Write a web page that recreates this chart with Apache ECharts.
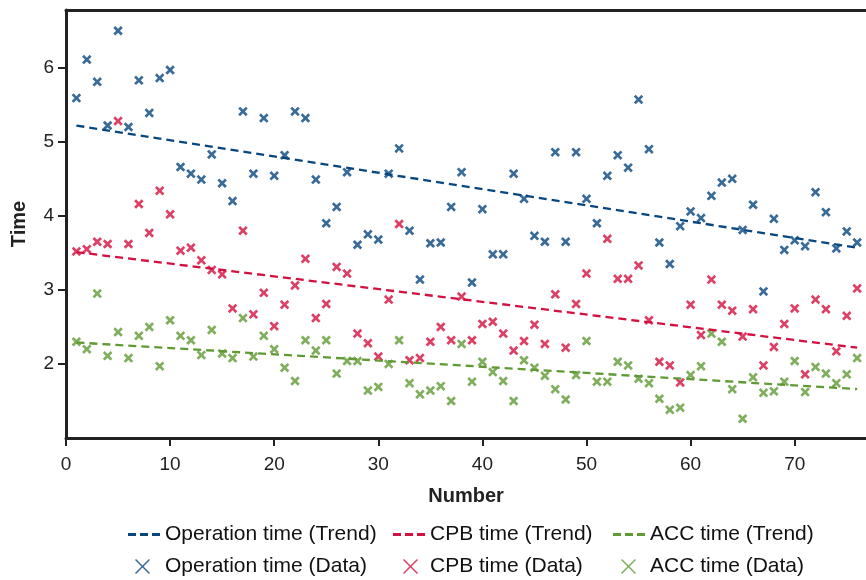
<!DOCTYPE html>
<html>
<head>
<meta charset="utf-8">
<script src="https://cdn.jsdelivr.net/npm/echarts@6/dist/echarts.min.js"></script>
<style>html,body{margin:0;padding:0;background:#fff;}#c{width:866px;height:580px;}</style>
</head>
<body>
<div id="c"></div>
<script>
const numbers = [1,2,3,4,5,6,7,8,9,10,11,12,13,14,15,16,17,18,19,20,21,22,23,24,25,26,27,28,29,30,31,32,33,34,35,36,37,38,39,40,41,42,43,44,45,46,47,48,49,50,51,52,53,54,55,56,57,58,59,60,61,62,63,64,65,66,67,68,69,70,71,72,73,74,75,76];
const operationTime = [5.59,6.11,5.81,5.22,6.50,5.20,5.83,5.39,5.86,5.97,
4.66,4.57,4.49,4.83,4.44,4.20,5.41,4.57,5.32,4.54,
4.82,5.41,5.32,4.49,3.90,4.12,4.59,3.61,3.75,3.68,
4.57,4.91,3.80,3.14,3.63,3.64,4.12,4.59,3.10,4.09,
3.48,3.48,4.57,4.23,3.73,3.65,4.86,3.65,4.86,4.23,
3.90,4.54,4.82,4.65,5.57,4.90,3.64,3.35,3.86,4.06,
3.97,4.27,4.45,4.50,3.81,4.15,2.98,3.96,3.54,3.67,
3.59,4.32,4.05,3.56,3.79,3.64];
const cpbTime = [3.52,3.55,3.65,3.62,5.28,3.62,4.16,3.77,4.34,4.02,
3.53,3.57,3.40,3.27,3.21,2.75,3.80,2.67,2.96,2.51,
2.80,3.06,3.42,2.62,2.81,3.31,3.22,2.41,2.28,2.10,
2.87,3.89,2.05,2.08,2.30,2.50,2.32,2.91,2.32,2.54,
2.57,2.41,2.18,2.31,2.53,2.27,2.94,2.22,2.81,3.22,
null,3.69,3.15,3.15,3.33,2.59,2.03,1.98,1.75,2.80,
2.39,3.14,2.80,2.72,2.37,2.74,1.98,2.23,2.54,2.75,
1.86,2.87,2.74,2.17,2.65,3.02];
const accTime = [2.30,2.20,2.95,2.11,2.43,2.08,2.38,2.50,1.97,2.59,
2.38,2.32,2.12,2.46,2.14,2.08,2.62,2.10,2.38,2.20,
1.95,1.77,2.32,2.18,2.32,1.87,2.04,2.04,1.64,1.69,
2.00,2.32,1.74,1.59,1.64,1.70,1.50,2.27,1.76,2.03,
1.89,1.77,1.50,2.05,1.95,1.84,1.66,1.52,1.85,2.31,
1.76,1.76,2.03,1.98,1.80,1.74,1.53,1.38,1.41,1.85,
1.97,2.41,2.30,1.66,1.26,1.82,1.61,1.63,1.76,2.04,
1.62,1.96,1.87,1.74,1.86,2.08];
const trendX = [1, 76];
const operationTrend = [5.22, 3.57];
const cpbTrend = [3.51, 2.22];
const accTrend = [2.29, 1.66];
const xTicks = [0,10,20,30,40,50,60,70];
const yTicks = [2,3,4,5,6];

const names = {
  opT: 'Operation time (Trend)', cpbT: 'CPB time (Trend)', accT: 'ACC time (Trend)',
  opD: 'Operation time (Data)', cpbD: 'CPB time (Data)', accD: 'ACC time (Data)'
};
const colors = { op: '#08467f', cpb: '#d3103f', acc: '#5f9a35' };
const FONT = "'Liberation Sans', Arial, Helvetica, sans-serif";
const X_MARK = 'path://M0,2L2,0L5,3L8,0L10,2L7,5L10,8L8,10L5,7L2,10L0,8L3,5Z';
const X_ICON = 'path://M0,0.7L0.7,0L5,4.3L9.3,0L10,0.7L5.7,5L10,9.3L9.3,10L5,5.7L0.7,10L0,9.3L4.3,5Z';
const DASH_ICON = 'path://M0,0h8v3h-8zM12,0h8v3h-8zM24,0h8v3h-8z';
const X_MAX = 76.85;

function pairs(xs, ys) { return xs.map((x, i) => [x, ys[i]]); }

function scatter(name, ys, color) {
  return { name, type: 'scatter', data: pairs(numbers, ys), symbol: X_MARK, symbolSize: 9.5,
    itemStyle: { color }, z: 3 };
}
function trend(name, ys, color) {
  return { name, type: 'line', data: pairs(trendX, ys), symbol: 'none', z: 4,
    lineStyle: { color, width: 2.3, type: [8, 5] }, itemStyle: { color } };
}
function legendItem(name, left, top, icon, w, h, color, padLeft) {
  return { data: [{ name, icon, itemStyle: { color } }], left, top, orient: 'horizontal', padding: 0,
    itemWidth: w, itemHeight: h, selectedMode: false,
    textStyle: { fontFamily: FONT, fontSize: 21, color: '#111', padding: [0, 0, 0, padLeft] } };
}

const chart = echarts.init(document.getElementById('c'), null, { renderer: 'canvas' });
chart.setOption({
  animation: false,
  backgroundColor: '#fff',
  grid: { left: 66, top: 10, right: 0, bottom: 142, show: false },
  xAxis: [{
    type: 'value', min: 0, max: X_MAX, interval: 10,
    name: 'Number', nameLocation: 'middle', nameGap: 48,
    nameTextStyle: { fontFamily: FONT, fontSize: 20, fontWeight: 'bold', color: '#222' },
    axisLine: { show: true, onZero: false, lineStyle: { color: '#222', width: 3 } },
    axisTick: { show: true, length: 8, lineStyle: { color: '#222', width: 2 } },
    axisLabel: { fontFamily: FONT, fontSize: 19, color: '#222', margin: 17, showMaxLabel: false,
      formatter: v => xTicks.includes(v) ? String(v) : '' },
    splitLine: { show: false }
  }, {
    type: 'value', min: 0, max: X_MAX, position: 'top',
    axisLine: { show: true, onZero: false, lineStyle: { color: '#222', width: 3 } },
    axisTick: { show: false }, axisLabel: { show: false }, splitLine: { show: false }
  }],
  yAxis: {
    type: 'value', min: 1, max: 6.78, interval: 1,
    name: 'Time', nameLocation: 'middle', nameGap: 37, nameRotate: 90,
    nameTextStyle: { fontFamily: FONT, fontSize: 20, fontWeight: 'bold', color: '#222' },
    axisLine: { show: true, lineStyle: { color: '#222', width: 3 } },
    axisTick: { show: true, length: 8, lineStyle: { color: '#222', width: 2 } },
    axisLabel: { fontFamily: FONT, fontSize: 19, color: '#222', margin: 12, showMinLabel: false, showMaxLabel: false,
      formatter: v => yTicks.includes(v) ? String(v) : '' },
    splitLine: { show: false }
  },
  legend: [
    legendItem(names.opT, 128, 524, DASH_ICON, 32, 3, colors.op, 0),
    legendItem(names.cpbT, 393, 524, DASH_ICON, 32, 3, colors.cpb, 0),
    legendItem(names.accT, 613, 524, DASH_ICON, 32, 3, colors.acc, 0),
    legendItem(names.opD, 135, 556, X_ICON, 15, 18, colors.op, 10),
    legendItem(names.cpbD, 403, 556, X_ICON, 15, 18, colors.cpb, 7),
    legendItem(names.accD, 621, 556, X_ICON, 15, 18, colors.acc, 9)
  ],
  series: [
    scatter(names.opD, operationTime, colors.op),
    scatter(names.cpbD, cpbTime, colors.cpb),
    scatter(names.accD, accTime, colors.acc),
    trend(names.opT, operationTrend, colors.op),
    trend(names.cpbT, cpbTrend, colors.cpb),
    trend(names.accT, accTrend, colors.acc)
  ]
});
</script>
</body>
</html>
